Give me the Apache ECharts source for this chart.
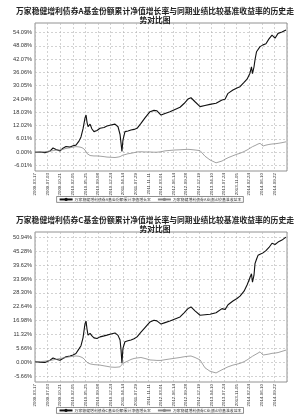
<!DOCTYPE html>
<html>
<head>
<meta charset="utf-8">
<script src="https://cdn.jsdelivr.net/npm/echarts@6/dist/echarts.min.js"></script>
<style>
  html, body { margin: 0; padding: 0; background: #fff; }
  #chart_container { width: 300px; height: 419px; }
</style>
</head>
<body>
<div id="chart_container"></div>
<script>
// x position of each sample, in label periods (0 = first date label, 20 = right edge)
var t = [0, 0.40, 0.79, 1.19, 1.43, 1.67, 1.98, 2.22, 2.46, 2.78, 3.02, 3.25, 3.49, 3.65, 3.81, 3.97,
    4.05, 4.13, 4.21, 4.37, 4.52, 4.68, 4.92, 5.16, 5.48, 5.71, 6.03, 6.35, 6.59, 6.75, 6.83, 6.90,
    6.98, 7.14, 7.38, 7.62, 7.86, 8.10, 8.41, 8.73, 9.13, 9.44, 9.68, 10.00, 10.32, 10.71, 11.11,
    11.51, 11.83, 12.14, 12.38, 12.70, 13.10, 13.49, 13.89, 14.37, 14.84, 15.08, 15.32, 15.71, 16.03,
    16.27, 16.59, 16.83, 17.06, 17.18, 17.26, 17.38, 17.46, 17.58, 17.70, 17.86, 18.10, 18.33, 18.57,
    18.81, 19.05, 19.29, 19.60, 19.92];

var navA = [0.0, 0.1, -0.2, 0.5, 1.9, 1.2, 0.6, 1.8, 2.6, 2.3, 2.9, 3.2, 5.0, 6.9, 10.5, 15.5,
    16.8, 13.5, 11.5, 12.7, 10.5, 9.3, 9.8, 10.8, 11.2, 11.8, 12.3, 12.7, 11.5, 8.0, 4.0, 0.3,
    5.5, 9.3, 9.6, 10.0, 10.3, 10.8, 13.0, 15.5, 18.3, 18.9, 18.7, 16.8, 17.5, 18.3, 19.3,
    20.3, 22.0, 24.0, 24.6, 22.8, 20.6, 21.1, 21.6, 22.1, 23.6, 23.9, 26.6, 28.1, 29.0,
    29.6, 31.5, 33.0, 35.7, 38.6, 35.5, 38.5, 41.7, 45.4, 46.0, 47.7, 48.5, 49.0, 51.2,
    52.9, 51.5, 53.7, 54.3, 55.2];

var benchA = [0.0, 0.0, 0.2, 0.5, 0.7, 0.9, 1.0, 1.3, 1.7, 2.0, 2.3, 2.5, 2.4, 2.2, 1.8, 1.0,
    0.2, -0.6, -1.3, -1.5, -1.6, -1.7, -1.7, -1.8, -2.0, -2.2, -2.3, -2.4, -2.2, -2.0, -1.8, -1.6,
    -1.3, -1.1, -0.7, -0.5, -0.2, 0.1, 0.2, 0.1, 0.1, 0.0, 0.0, 0.2, 0.6, 0.8, 1.0,
    1.1, 1.2, 1.3, 1.2, 1.0, 0.7, -1.8, -3.5, -4.8, -4.0, -3.2, -2.5, -1.6, -0.9,
    -0.5, 0.3, 1.0, 1.8, 2.3, 2.5, 2.6, 3.0, 3.3, 3.7, 4.0, 2.8, 3.2, 3.5,
    3.7, 3.8, 4.0, 4.3, 4.7];

var navC = [0.3, 0.1, 0.0, 0.9, 1.8, 1.3, 0.9, 1.6, 2.3, 2.6, 3.0, 3.6, 5.5, 6.8, 10.0, 15.8,
    16.8, 13.5, 11.1, 11.8, 10.8, 10.0, 9.7, 10.4, 10.8, 11.1, 11.6, 12.0, 11.0, 9.1, 5.0, -0.3,
    5.7, 8.4, 8.8, 9.1, 9.6, 10.4, 12.3, 14.2, 16.5, 17.2, 16.9, 15.6, 16.2, 16.9, 17.7,
    18.5, 20.2, 21.9, 22.6, 21.0, 19.2, 19.4, 19.6, 20.2, 21.9, 21.5, 23.5, 25.0, 26.0,
    27.0, 29.0, 31.5, 34.5, 36.1, 32.7, 35.5, 40.2, 42.0, 43.6, 44.0, 44.6, 45.5, 46.8,
    48.5, 48.0, 49.0, 49.8, 51.0];

var benchC = [0.3, 0.3, 0.5, 0.8, 1.0, 1.3, 1.6, 1.8, 2.0, 2.3, 2.5, 2.6, 2.5, 2.2, 1.8, 1.0,
    0.5, 0.0, -0.4, -0.6, -0.8, -0.9, -1.0, -1.1, -1.4, -1.6, -1.9, -2.0, -1.9, -1.8, -1.5, -1.0,
    -0.4, 0.0, 0.6, 1.2, 1.6, 1.8, 2.0, 1.6, 1.0, 0.9, 0.8, 0.8, 1.1, 1.4, 1.7,
    2.0, 2.3, 2.5, 2.6, 2.0, 1.0, -2.2, -3.6, -4.3, -3.0, -2.4, -1.8, -1.1, -0.7,
    -0.4, 0.3, 1.0, 1.8, 2.2, 2.5, 2.8, 3.1, 3.4, 3.8, 4.3, 3.0, 3.2, 3.4,
    3.7, 3.8, 4.0, 4.5, 5.0];

var dateLabels = ["2009-03-17", "2009-07-03", "2009-10-21", "2010-02-05", "2010-05-25",
    "2010-09-08", "2010-12-24", "2011-04-14", "2011-07-29", "2011-11-11",
    "2012-03-01", "2012-06-14", "2012-09-28", "2012-12-19", "2013-04-10",
    "2013-07-24", "2013-11-05", "2014-02-24", "2014-06-10", "2014-09-22"];

// y ticks: min, step, max (percent)
var yTicksA = [-6.01, 6.01, 54.09];
var yTicksC = [-5.66, 5.66, 50.94];

var titleA = "万家稳健增利债券A基金份额累计净值增长率与同期业绩比较基准收益率的历史走\n势对比图";
var titleC = "万家稳健增利债券C基金份额累计净值增长率与同期业绩比较基准收益率的历史走\n势对比图";
var namesA = ["万家稳健增利债券A基金份额累计净值增长率", "万家稳健增利债券A业绩比较基准收益率"];
var namesC = ["万家稳健增利债券C基金份额累计净值增长率", "万家稳健增利债券C业绩比较基准收益率"];

var cjk = '"Noto Sans CJK SC", "Noto Sans", sans-serif';

function pairs(ys) {
    return t.map(function (x, i) { return [x, ys[i]]; });
}

function frameX(gridIndex) {
    return {
        type: 'value', gridIndex: gridIndex, min: 0, max: 20, interval: 1,
        axisLine: { show: false },
        axisTick: { show: false },
        splitLine: { show: true, lineStyle: { color: '#b5b5b5', type: [2, 2], width: 0.6 } },
        axisLabel: {
            rotate: 90, margin: 2, fontSize: 4.4, color: '#333', fontFamily: 'Liberation Sans',
            formatter: function (v) { return dateLabels[Math.round(v)] || ''; }
        }
    };
}

function innerY(gridIndex, ticks) {
    return {
        type: 'value', gridIndex: gridIndex, min: ticks[0], max: ticks[2], interval: ticks[1],
        axisLine: { show: false },
        axisTick: { show: false },
        splitLine: { show: true, lineStyle: { color: '#b5b5b5', type: [2, 2], width: 0.6 } },
        axisLabel: {
            margin: 3, fontSize: 5.6, color: '#333', fontFamily: 'Liberation Sans',
            formatter: function (v) { return v.toFixed(2) + '%'; }
        }
    };
}

function legendBox(top, names) {
    return {
        top: top, left: 'center', data: names,
        orient: 'horizontal', itemGap: 6, itemWidth: 13, itemHeight: 4,
        padding: [1, 2], borderColor: '#444', borderWidth: 0.6,
        textStyle: { fontSize: 3.9, color: '#333', fontFamily: cjk, padding: [0, 0, 0, -3] }
    };
}

function titleBlock(text, top) {
    return {
        text: text, left: 150, top: top, textAlign: 'center',
        textStyle: { fontSize: 7.8, fontWeight: 'bold', color: '#222', fontFamily: cjk, lineHeight: 8.6, align: 'center' }
    };
}

function lineSeries(name, xi, ys, color, w) {
    return {
        name: name, type: 'line', xAxisIndex: xi, yAxisIndex: xi,
        data: pairs(ys), symbol: 'none', showSymbol: false, clip: false,
        lineStyle: { color: color, width: w }, itemStyle: { color: color },
        animation: false
    };
}

var dom = document.getElementById("chart_container");
var myChart = echarts.init(dom, null, { renderer: 'canvas' });

var option = {
    backgroundColor: '#fff',
    animation: false,
    title: [titleBlock(titleA, 2), titleBlock(titleC, 211)],
    legend: [legendBox(196.5, namesA), legendBox(407.5, namesC)],
    grid: [
        { left: 35, top: 23, width: 252, height: 148, show: true, borderColor: '#777', borderWidth: 0.8, backgroundColor: '#fff' },
        { left: 35, top: 32.5, width: 252, height: 133 },
        { left: 35, top: 232, width: 252, height: 150, show: true, borderColor: '#777', borderWidth: 0.8, backgroundColor: '#fff' },
        { left: 35, top: 237.3, width: 252, height: 139 }
    ],
    xAxis: [
        frameX(0),
        { type: 'value', gridIndex: 1, min: 0, max: 20, show: false },
        frameX(2),
        { type: 'value', gridIndex: 3, min: 0, max: 20, show: false }
    ],
    yAxis: [
        { type: 'value', gridIndex: 0, min: 0, max: 1, show: false },
        innerY(1, yTicksA),
        { type: 'value', gridIndex: 2, min: 0, max: 1, show: false },
        innerY(3, yTicksC)
    ],
    series: [
        lineSeries(namesA[0], 1, navA, '#111', 1.1),
        lineSeries(namesA[1], 1, benchA, '#8a8a8a', 0.8),
        lineSeries(namesC[0], 3, navC, '#111', 1.1),
        lineSeries(namesC[1], 3, benchC, '#8a8a8a', 0.8)
    ]
};

myChart.setOption(option, true);
</script>
</body>
</html>
